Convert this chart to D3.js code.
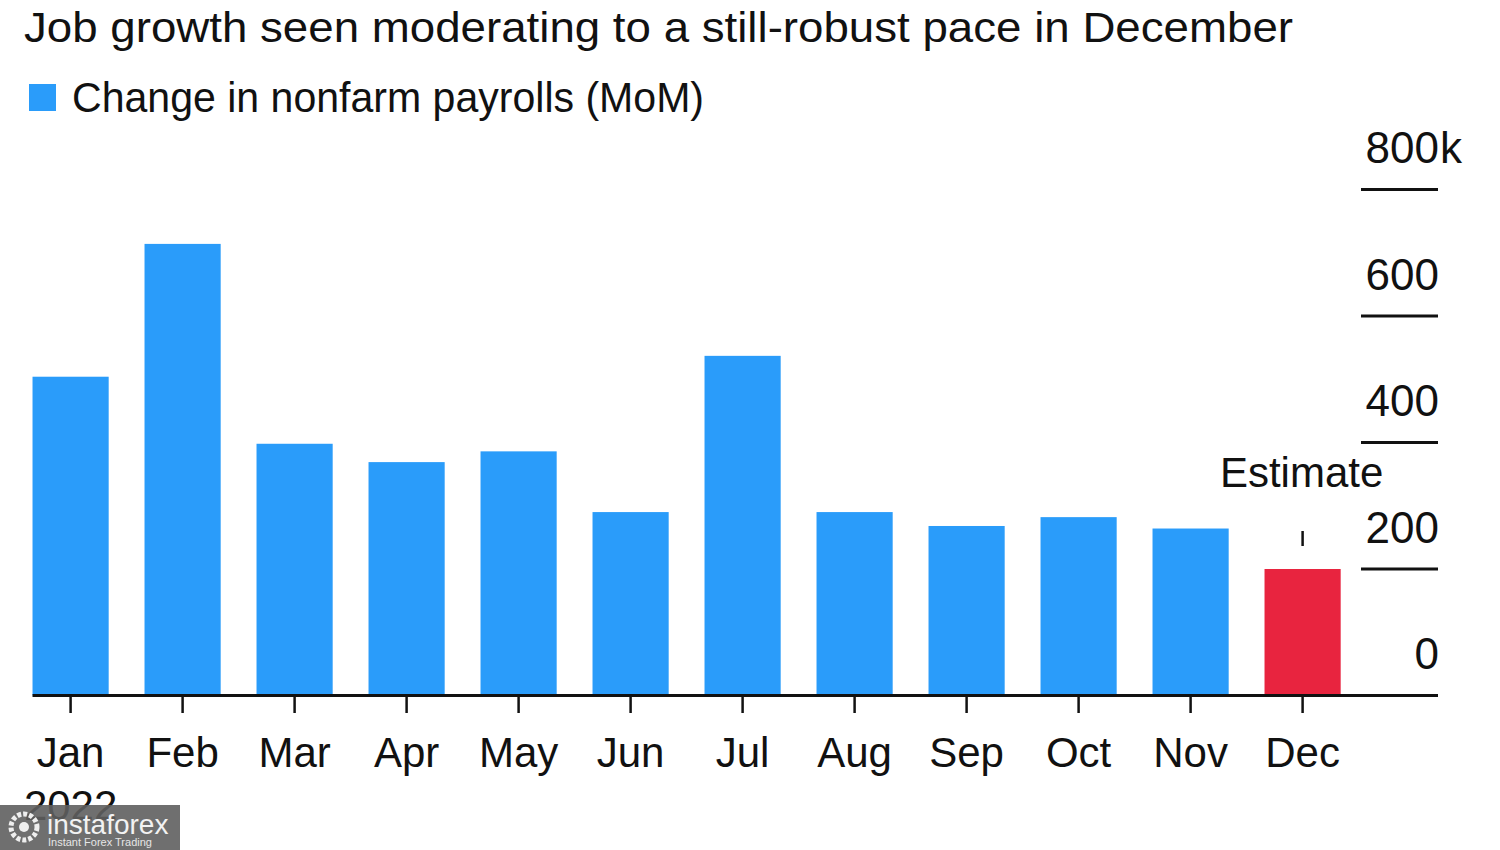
<!DOCTYPE html>
<html>
<head>
<meta charset="utf-8">
<script src="https://cdn.jsdelivr.net/npm/d3@7"></script>
<style>
  html, body { margin: 0; padding: 0; background: #fff; }
  svg { display: block; font-family: "Liberation Sans", Arial, Helvetica, sans-serif; }
</style>
</head>
<body>
<svg id="chart"></svg>
<script>
// data (thousands of jobs, MoM)
const months = ["Jan", "Feb", "Mar", "Apr", "May", "Jun", "Jul", "Aug", "Sep", "Oct", "Nov", "Dec"];
const payrolls = [504, 714, 398, 369, 386, 290, 537, 290, 268, 282, 264, 200];
const isEstimate = [false, false, false, false, false, false, false, false, false, false, false, true];
const yTicks = [0, 200, 400, 600, 800];
const title = "Job growth seen moderating to a still-robust pace in December";
const legendLabel = "Change in nonfarm payrolls (MoM)";
const yearLabel = "2022";

const width = 1500, height = 850;
const blue = "#2a9cfa", red = "#e8243f", ink = "#111";

const svg = d3.select("#chart").attr("width", width).attr("height", height);

const x = d3.scaleBand().domain(months).range([14.6, 1358.6])
    .paddingInner(0.32).paddingOuter(0.16);
const y = d3.scaleLinear().domain([0, 800]).range([695.5, 189.5]);

// title + legend
svg.append("text").attr("x", 24).attr("y", 42)
    .attr("font-size", 42).attr("fill", ink)
    .attr("textLength", 1269).attr("lengthAdjust", "spacingAndGlyphs")
    .text(title);
svg.append("rect").attr("x", 29).attr("y", 84).attr("width", 27).attr("height", 27).attr("fill", blue);
svg.append("text").attr("x", 72).attr("y", 112)
    .attr("font-size", 42).attr("fill", ink)
    .attr("textLength", 632).attr("lengthAdjust", "spacingAndGlyphs")
    .text(legendLabel);

// bars
svg.append("g").selectAll("rect").data(payrolls).join("rect")
    .attr("x", (d, i) => x(months[i]))
    .attr("width", x.bandwidth())
    .attr("y", d => y(d))
    .attr("height", d => y(0) - y(d))
    .attr("fill", (d, i) => isEstimate[i] ? red : blue);

// y gridlines (short, on the right) + labels
const gx0 = 1361, gx1 = 1438;
const grid = svg.append("g");
grid.selectAll("line").data(yTicks.filter(d => d > 0)).join("line")
    .attr("x1", gx0).attr("x2", gx1)
    .attr("y1", d => y(d)).attr("y2", d => y(d))
    .attr("stroke", ink).attr("stroke-width", 3);
grid.selectAll("text").data(yTicks).join("text")
    .attr("x", 1439).attr("y", d => y(d) - 26.5)
    .attr("text-anchor", "end").attr("font-size", 44).attr("fill", ink)
    .text(d => d);
svg.append("text").attr("x", 1440).attr("y", y(800) - 26.5)
    .attr("font-size", 44).attr("fill", ink).text("k");

// baseline
svg.append("line").attr("x1", x(months[0])).attr("x2", gx1)
    .attr("y1", y(0)).attr("y2", y(0))
    .attr("stroke", ink).attr("stroke-width", 3);

// x axis ticks + month labels
const xAxis = svg.append("g").attr("transform", `translate(0,${y(0) + 1.5})`)
    .call(d3.axisBottom(x).tickSize(16).tickPadding(24));
xAxis.select(".domain").remove();
xAxis.selectAll(".tick line").attr("stroke", ink).attr("stroke-width", 2.5);
xAxis.selectAll(".tick text").attr("font-size", 42).attr("fill", ink)
    .attr("font-family", "Liberation Sans, Arial, sans-serif");

svg.append("text").attr("x", x(months[0]) + x.bandwidth() / 2).attr("y", 820)
    .attr("text-anchor", "middle").attr("font-size", 42).attr("fill", ink).text(yearLabel);

// estimate annotation
const decX = x("Dec") + x.bandwidth() / 2;
svg.append("text").attr("x", decX - 1).attr("y", 487)
    .attr("text-anchor", "middle").attr("font-size", 42).attr("fill", ink).text("Estimate");
svg.append("line").attr("x1", decX).attr("x2", decX).attr("y1", 531).attr("y2", 546)
    .attr("stroke", ink).attr("stroke-width", 2.5);

// watermark
const wm = svg.append("g");
wm.append("rect").attr("x", 0).attr("y", 805).attr("width", 180).attr("height", 45)
    .attr("fill", "#5f5f5f").attr("opacity", 0.9);
wm.append("circle").attr("cx", 24).attr("cy", 827).attr("r", 13)
    .attr("fill", "none").attr("stroke", "#eee").attr("stroke-width", 5).attr("stroke-dasharray", "4 2");
wm.append("circle").attr("cx", 24).attr("cy", 827).attr("r", 5).attr("fill", "#eee");
wm.append("text").attr("x", 47).attr("y", 834).attr("font-size", 28).attr("fill", "#f2f2f2")
    .attr("font-weight", 300).text("instaforex");
wm.append("text").attr("x", 48).attr("y", 846).attr("font-size", 11).attr("fill", "#e6e6e6")
    .text("Instant Forex Trading");
</script>
</body>
</html>
